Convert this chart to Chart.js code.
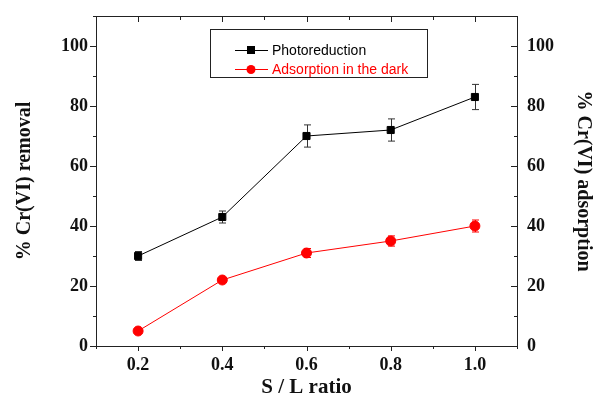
<!DOCTYPE html>
<html>
<head>
<meta charset="utf-8">
<script src="https://cdn.jsdelivr.net/npm/chart.js@4/dist/chart.umd.min.js"></script>
<style>
  html, body { margin: 0; padding: 0; background: #fff; }
  #wrap { width: 593px; height: 398px; }
</style>
</head>
<body>
<div id="wrap"><canvas id="graf" width="593" height="398"></canvas></div>
<script>
// S/L ratio values
const slRatio = [0.2, 0.4, 0.6, 0.8, 1.0];
const photoreduction = [30, 43, 70, 72, 83];
const photoErr = [1.5, 2, 3.7, 3.7, 4.2];
const darkAdsorption = [5, 22, 31, 35, 40];
const darkErr = [0, 0, 1.5, 1.7, 2];
const xTickLabels = [0.2, 0.4, 0.6, 0.8, 1.0];
const yTickLabels = [0, 20, 40, 60, 80, 100];

const serifBold = { family: "'Liberation Serif', 'Times New Roman', serif", weight: 'bold', size: 18 };
const titleFontY = { family: "'Liberation Serif', 'Times New Roman', serif", weight: 'bold', size: 20, lineHeight: 1 };
const titleFontX = { family: "'Liberation Serif', 'Times New Roman', serif", weight: 'bold', size: 21, lineHeight: 1 };

function points(xs, ys) {
  return xs.map((x, i) => ({ x: x, y: ys[i] }));
}

// error bars, drawn through the scales
const errorBars = {
  id: 'errorBars',
  beforeDatasetsDraw(chart) {
    const ctx = chart.ctx;
    const xs = chart.scales.x, ys = chart.scales.y;
    chart.data.datasets.forEach(ds => {
      ctx.save();
      ctx.strokeStyle = ds.errColor;
      ctx.lineWidth = 1;
      ds.data.forEach((p, i) => {
        const e = ds.errors[i];
        if (!e) return;
        const px = Math.round(xs.getPixelForValue(p.x)) + 0.5;
        const top = ys.getPixelForValue(p.y + e);
        const bot = ys.getPixelForValue(p.y - e);
        ctx.beginPath();
        ctx.moveTo(px, top); ctx.lineTo(px, bot);
        ctx.moveTo(px - 3.5, top); ctx.lineTo(px + 3.5, top);
        ctx.moveTo(px - 3.5, bot); ctx.lineTo(px + 3.5, bot);
        ctx.stroke();
      });
      ctx.restore();
    });
  }
};

// tick marks: left/bottom outward, top/right inward
const tickMarks = {
  id: 'tickMarks',
  afterDraw(chart) {
    const ctx = chart.ctx;
    const xs = chart.scales.x, ys = chart.scales.y;
    const a = chart.chartArea;
    ctx.save();
    ctx.strokeStyle = '#222';
    ctx.lineWidth = 1;
    ctx.beginPath();
    for (let k = 1; k <= 11; k++) {
      const v = k / 10;
      const px = Math.round(xs.getPixelForValue(v)) + 0.5;
      const len = k % 2 === 0 ? 5 : 3;
      ctx.moveTo(px, a.bottom); ctx.lineTo(px, a.bottom + len);
      ctx.moveTo(px, a.top); ctx.lineTo(px, a.top + len + 1);
    }
    for (let v = 0; v <= 110; v += 10) {
      const py = Math.round(ys.getPixelForValue(v)) + 0.5;
      const len = v % 20 === 0 ? 6 : 3;
      ctx.moveTo(a.left, py); ctx.lineTo(a.left - len, py);
      ctx.moveTo(a.right, py); ctx.lineTo(a.right - len, py);
    }
    ctx.stroke();
    ctx.restore();
  }
};

// boxed legend in the upper part of the plot
const boxLegend = {
  id: 'boxLegend',
  afterDraw(chart) {
    const ctx = chart.ctx;
    const bx = 210.5, by = 29.5, bw = 217, bh = 48;
    ctx.save();
    ctx.fillStyle = '#fff';
    ctx.fillRect(bx, by, bw, bh);
    ctx.strokeStyle = '#222';
    ctx.lineWidth = 1;
    ctx.strokeRect(bx, by, bw, bh);
    ctx.font = "14px 'Liberation Sans', Arial, sans-serif";
    ctx.textBaseline = 'middle';
    chart.data.datasets.forEach((ds, i) => {
      const y = 50 + i * 19;
      ctx.strokeStyle = ds.borderColor;
      ctx.beginPath();
      ctx.moveTo(235, y + 0.5); ctx.lineTo(268, y + 0.5);
      ctx.stroke();
      ctx.fillStyle = ds.pointBackgroundColor;
      if (ds.pointStyle === 'rect') {
        ctx.fillRect(247, y - 4, 8, 8);
      } else {
        ctx.beginPath();
        ctx.arc(251, y + 0.5, 4.5, 0, Math.PI * 2);
        ctx.fill();
      }
      ctx.fillStyle = ds.borderColor;
      ctx.fillText(ds.label, 272, y + 1);
    });
    ctx.restore();
  }
};

const axisBorder = { display: true, color: '#222', width: 1 };

// keep the plot box where the reference has it
function noPadV(s) { s.paddingTop = 0; s.paddingBottom = 0; }
function noPadH(s) { s.paddingLeft = 0; s.paddingRight = 0; }

new Chart(document.getElementById('graf'), {
  type: 'line',
  data: {
    datasets: [
      {
        label: 'Photoreduction',
        data: points(slRatio, photoreduction),
        errors: photoErr,
        errColor: '#333',
        borderColor: '#000',
        backgroundColor: '#000',
        pointBackgroundColor: '#000',
        pointBorderColor: '#000',
        pointStyle: 'rect',
        pointRadius: 5,
        borderWidth: 1,
        tension: 0
      },
      {
        label: 'Adsorption in the dark',
        data: points(slRatio, darkAdsorption),
        errors: darkErr,
        errColor: '#f00',
        borderColor: '#ff0000',
        backgroundColor: '#ff0000',
        pointBackgroundColor: '#ff0000',
        pointBorderColor: '#ff0000',
        pointStyle: 'circle',
        pointRadius: 5,
        borderWidth: 1,
        tension: 0
      }
    ]
  },
  options: {
    responsive: false,
    animation: false,
    layout: { padding: 0 },
    plugins: { legend: { display: false }, tooltip: { enabled: false } },
    scales: {
      x: {
        type: 'linear', position: 'bottom', min: 0.1, max: 1.1,
        afterBuildTicks: s => { s.ticks = xTickLabels.map(v => ({ value: v })); },
        afterFit: s => { s.height = 52; noPadH(s); },
        grid: { display: false, drawTicks: false },
        border: axisBorder,
        ticks: { color: '#111', font: serifBold, padding: 9, maxRotation: 0,
                 callback: v => Number(v).toFixed(1) },
        title: { display: true, text: 'S / L ratio', color: '#111', font: titleFontX,
                 padding: { top: 0, bottom: 0 } }
      },
      x2: {
        type: 'linear', position: 'top', min: 0.1, max: 1.1,
        afterFit: s => { s.height = 16; noPadH(s); },
        grid: { display: false, drawTicks: false },
        border: axisBorder,
        ticks: { display: false }
      },
      y: {
        position: 'left', min: 0, max: 110,
        afterBuildTicks: s => { s.ticks = yTickLabels.map(v => ({ value: v })); },
        afterFit: s => { s.width = 96; noPadV(s); },
        grid: { display: false, drawTicks: false },
        border: axisBorder,
        ticks: { color: '#111', font: serifBold, padding: 8 },
        title: { display: true, text: '% Cr(VI) removal', color: '#111', font: titleFontY,
                 padding: { top: 15, bottom: 0 } }
      },
      y2: {
        position: 'right', min: 0, max: 110,
        afterBuildTicks: s => { s.ticks = yTickLabels.map(v => ({ value: v })); },
        afterFit: s => { s.width = 76; noPadV(s); },
        grid: { display: false, drawTicks: false },
        border: axisBorder,
        ticks: { color: '#111', font: serifBold, padding: 10 },
        title: { display: true, text: '% Cr(VI) adsorption', color: '#111', font: titleFontY,
                 padding: { top: 0, bottom: 0 } }
      }
    }
  },
  plugins: [errorBars, tickMarks, boxLegend]
});
</script>
</body>
</html>
